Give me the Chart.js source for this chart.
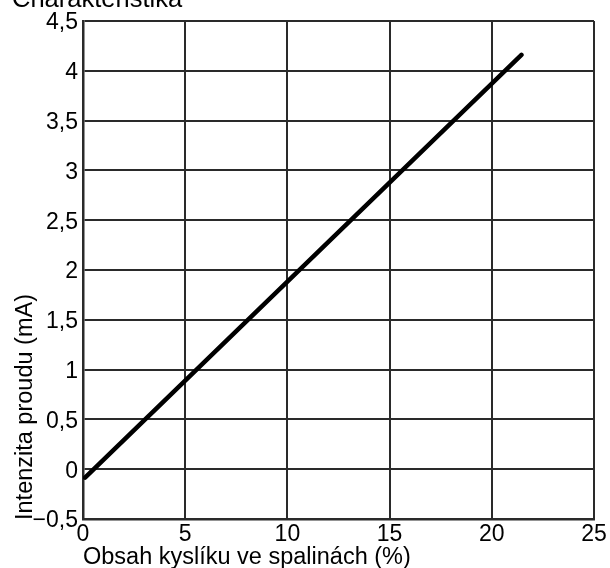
<!DOCTYPE html>
<html>
<head>
<meta charset="utf-8">
<script src="https://cdn.jsdelivr.net/npm/chart.js@4"></script>
<style>
  html, body { margin: 0; padding: 0; background: #fff; }
  #wrap { width: 610px; height: 568px; }
</style>
</head>
<body>
<div id="wrap"><canvas id="charChart" width="610" height="568"></canvas></div>
<script>
// obsah kyslíku (%) -> proud sondy (mA)
const kyslik = [0.1, 21.45];
const proud = [-0.085, 4.16];

const xTicks = [0, 5, 10, 15, 20, 25];
const yTicks = [-0.5, 0, 0.5, 1, 1.5, 2, 2.5, 3, 3.5, 4, 4.5];

const nadpis = "Charakteristika";
const popisX = "Obsah kyslíku ve spalinách (%)";
const popisY = "Intenzita proudu (mA)";

const FONT = "'Liberation Sans', Arial, sans-serif";

function formatCislo(v) {
  return String(v).replace(".", ",").replace("-", "\u2212");
}

// popisky kreslíme sami, ať sedí přesně
const popisky = {
  id: "popisky",
  afterDraw(chart) {
    const ctx = chart.ctx;
    const area = chart.chartArea;
    ctx.save();
    ctx.fillStyle = "#000";
    ctx.textBaseline = "alphabetic";

    ctx.font = "25.5px " + FONT;
    ctx.textAlign = "left";
    ctx.fillText(nadpis, 12, 7);

    ctx.font = "23.5px " + FONT;
    ctx.fillText(popisX, area.left, 564);

    ctx.translate(32, area.bottom + 1);
    ctx.rotate(-Math.PI / 2);
    ctx.fillText(popisY, 0, 0);
    ctx.restore();
  }
};

const data = kyslik.map((x, i) => ({ x: x, y: proud[i] }));

new Chart(document.getElementById("charChart").getContext("2d"), {
  type: "scatter",
  data: {
    datasets: [{
      data: data,
      showLine: true,
      borderColor: "#000",
      borderWidth: 4.5,
      borderCapStyle: "round",
      pointRadius: 0,
      pointHoverRadius: 0
    }]
  },
  options: {
    responsive: false,
    animation: false,
    layout: { padding: { top: 21, right: 16, left: 0, bottom: 0 } },
    plugins: {
      legend: { display: false },
      tooltip: { enabled: false }
    },
    scales: {
      x: {
        type: "linear",
        min: 0,
        max: 25,
        afterFit: (s) => { s.height = 49; },
        afterBuildTicks: (s) => { s.ticks = xTicks.map(v => ({ value: v })); },
        ticks: {
          color: "#000",
          font: { family: FONT, size: 23 },
          padding: 2,
          maxRotation: 0,
          callback: (v) => formatCislo(v)
        },
        grid: { color: "#2a2a2a", lineWidth: 2, drawTicks: false },
        border: { color: "#2a2a2a", width: 2.5 }
      },
      y: {
        type: "linear",
        min: -0.5,
        max: 4.5,
        afterFit: (s) => { s.width = 83; },
        afterBuildTicks: (s) => { s.ticks = yTicks.map(v => ({ value: v })); },
        ticks: {
          color: "#000",
          font: { family: FONT, size: 23 },
          padding: 5,
          labelOffset: 2,
          callback: (v) => formatCislo(v)
        },
        grid: { color: "#2a2a2a", lineWidth: 2, drawTicks: false },
        border: { color: "#2a2a2a", width: 2.5 }
      }
    }
  },
  plugins: [popisky]
});
</script>
</body>
</html>
